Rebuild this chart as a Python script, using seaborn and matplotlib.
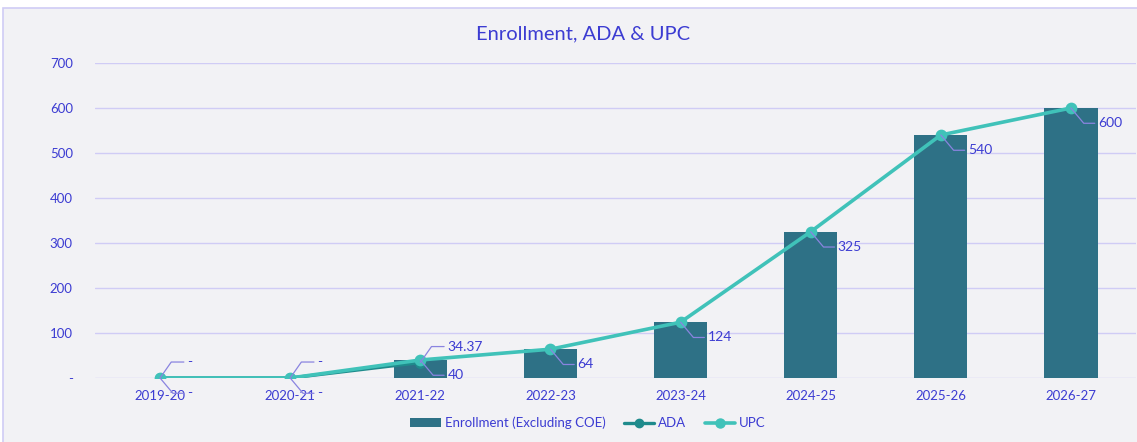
import numpy as np
import pandas as pd
import matplotlib
matplotlib.use("Agg")
import matplotlib.pyplot as plt
import seaborn as sns
from matplotlib.patches import Patch, Rectangle
from matplotlib.lines import Line2D

categories = ["2019-20", "2020-21", "2021-22", "2022-23", "2023-24", "2024-25", "2025-26", "2026-27"]
enrollment = [0, 0, 40, 64, 124, 325, 540, 600]
ada = [0, 0, 34.37, np.nan, np.nan, np.nan, np.nan, np.nan]
upc = [0, 0, 40, 64, 124, 325, 540, 600]
ada_labels = ["-", "-", "34.37"]
upc_labels = ["-", "-", "40", "64", "124", "325", "540", "600"]
yticks = [0, 100, 200, 300, 400, 500, 600, 700]
ytick_labels = ["-", "100", "200", "300", "400", "500", "600", "700"]

BAR = "#2e7186"
UPC_C = "#40c2b9"
ADA_C = "#1f8b8c"
TXT = "#3c3cd2"
GRID = "#d0ccf5"
BG = "#f2f2f5"

sns.set_theme(style="white")
plt.rcParams["font.family"] = ["Lato", "DejaVu Sans"]

fig = plt.figure(figsize=(11.37, 4.42), dpi=100)
fig.patch.set_facecolor("white")
fig.patches.append(Rectangle((3 / 1137, -0.1), 1.2, (442 - 8) / 442 + 0.1,
                             transform=fig.transFigure, facecolor=BG,
                             edgecolor=GRID, linewidth=1.2, zorder=-10))

ax = fig.add_axes([95 / 1137, 64 / 442, (1136 - 95) / 1137, (378 - 63) / 442])
ax.set_facecolor("none")

df = pd.DataFrame({"cat": categories, "enr": enrollment, "ada": ada, "upc": upc})

sns.barplot(data=df, x="cat", y="enr", color=BAR, saturation=1, width=0.41,
            linewidth=0, edgecolor="none", ax=ax, zorder=2)
sns.pointplot(data=df.iloc[:3], x="cat", y="ada", order=categories, color=ADA_C,
              markers="o", markersize=6, linewidth=2.4, errorbar=None, ax=ax, zorder=3)
sns.pointplot(data=df, x="cat", y="upc", order=categories, color=UPC_C,
              markers="o", markersize=6.5, linewidth=2.6, errorbar=None, ax=ax, zorder=4)

ax.set_xlim(-0.5, 7.5)
ax.set_ylim(0, 700)
ax.set_yticks(yticks)
ax.set_yticklabels(ytick_labels)
ax.set_xlabel("")
ax.set_ylabel("")
for s in ax.spines.values():
    s.set_visible(False)
ax.grid(axis="y", color=GRID, linewidth=1, zorder=0)
ax.set_axisbelow(True)
ax.tick_params(axis="y", length=0, pad=16, labelsize=9.5, labelcolor=TXT)
ax.tick_params(axis="x", length=0, pad=9, labelsize=9.5, labelcolor=TXT)

lead_color = "#8a84e0"

def label(i, val, txt, up):
    if up:
        off = (19.5, 11.5)
        angB = 55
    else:
        off = (19.5, -11)
        angB = -50
    ax.annotate(txt, xy=(i, val), xytext=off, textcoords="offset points",
                ha="left", va="center", fontsize=10, color=TXT, zorder=6,
                arrowprops=dict(arrowstyle="-", color=lead_color, lw=0.9,
                                relpos=(0, 0.5), shrinkA=0, shrinkB=0,
                                connectionstyle=f"angle,angleA=0,angleB={angB},rad=0"))

for i, t in enumerate(ada_labels):
    label(i, ada[i], t, True)
for i, t in enumerate(upc_labels):
    label(i, upc[i], t, False)

fig.text(583 / 1137, 1 - 34 / 442, "Enrollment, ADA & UPC", ha="center", va="center",
         fontsize=14.5, color=TXT)

handles = [Patch(facecolor=BAR, edgecolor="none"),
           Line2D([], [], color=ADA_C, lw=2.4, marker="o", markersize=6),
           Line2D([], [], color=UPC_C, lw=2.6, marker="o", markersize=6.5)]
leg = fig.legend(handles, ["Enrollment (Excluding COE)", "ADA", "UPC"],
                 loc="center", bbox_to_anchor=(588 / 1137, 1 - 423 / 442), ncol=3,
                 frameon=False, fontsize=9.5, handlelength=2.3, handletextpad=0.3,
                 columnspacing=1.4)
for t in leg.get_texts():
    t.set_color(TXT)

fig.savefig("out.png", dpi=100, facecolor="white")
